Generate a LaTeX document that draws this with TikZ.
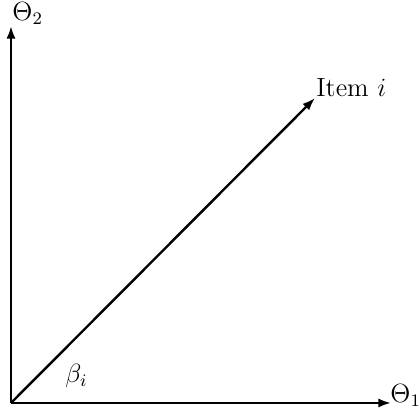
\documentclass[tikz,border=0pt]{standalone}
\usetikzlibrary{arrows.meta}
\begin{document}
\begin{tikzpicture}[
    x=0.016cm, y=0.016cm,
    ax/.style={line width=1.1pt, -{Latex[length=5.8pt, width=4.2pt]}},
    lab/.style={inner sep=0pt, anchor=base west, font=\fontsize{12}{14}\selectfont}]
  \useasboundingbox (0,0) rectangle (419,408);
  % origin and ends of the axes
  \coordinate (O)  at (11,5);
  \coordinate (t1) at (391,5);
  \coordinate (t2) at (11,382);
  \coordinate (it) at (315,310);
  \draw[ax] (O) -- (t1);
  \draw[ax] (O) -- (t2);
  \draw[ax] (O) -- (it);
  % labels
  \node[lab] (th1)  at (390,5)   {$\Theta_1$};
  \node[lab] (th2)  at (12,387)  {$\Theta_2$};
  \node[lab] (item) at (316,311) {Item $i$};
  \node[lab] (beta) at (65,25)   {$\beta_i$};
\end{tikzpicture}
\end{document}
